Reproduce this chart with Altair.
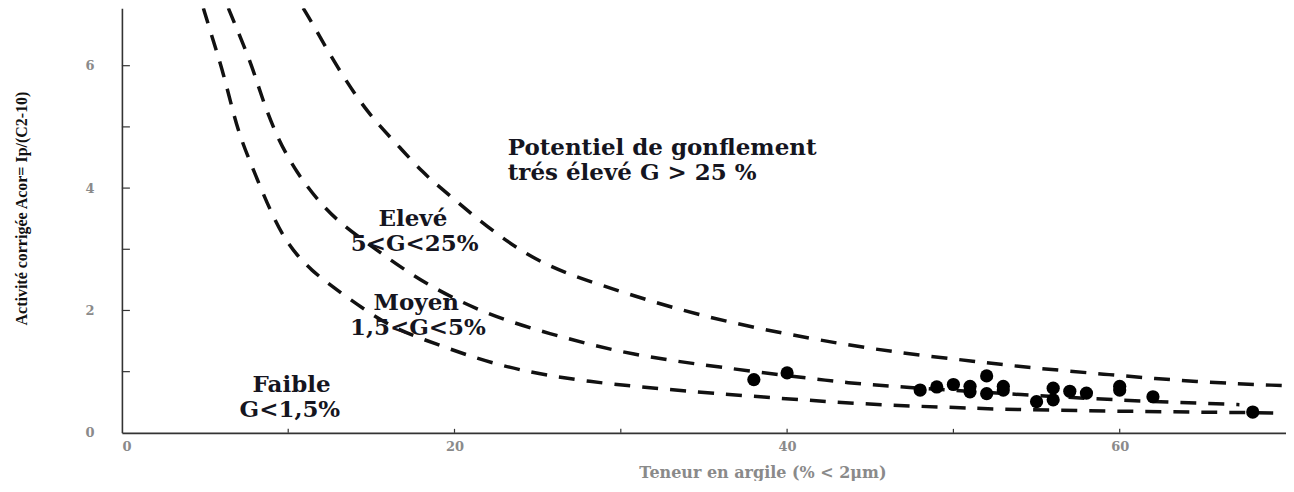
import altair as alt
import pandas as pd

# ---- data ----
clay = [38, 40, 48, 49, 50, 51, 51, 52, 52, 53, 53, 55, 56, 56, 57, 58, 60, 60, 62, 68]
acor = [0.87, 0.98, 0.70, 0.75, 0.79, 0.76, 0.67, 0.93, 0.64, 0.70, 0.76, 0.51, 0.54, 0.73, 0.68, 0.65, 0.76, 0.70, 0.59, 0.34]

# boundary G = 1.5 %
low_x = [4.9, 5.33, 6.05, 6.65, 7.1, 7.9, 8.9, 9.9, 11.3, 13.5, 16.1, 18.7, 22.7, 27.7, 35.3, 44.7, 50.7, 53.1, 63.6, 68.4, 69.6]
low_y = [6.94, 6.55, 5.93, 5.28, 4.84, 4.30, 3.64, 3.10, 2.66, 2.22, 1.73, 1.47, 1.08, 0.83, 0.65, 0.46, 0.41, 0.38, 0.34, 0.33, 0.32]
# boundary G = 5 %
mid_x = [6.4, 6.95, 7.85, 8.4, 9.3, 10.5, 11.9, 13.1, 15.3, 18.1, 21.9, 26.3, 30.7, 35.7, 43.1, 45.6, 58.8, 66.4, 67.2]
mid_y = [6.94, 6.58, 5.98, 5.49, 4.84, 4.25, 3.76, 3.43, 2.99, 2.45, 1.93, 1.57, 1.27, 1.08, 0.83, 0.77, 0.54, 0.47, 0.46]
# boundary G = 25 %
high_x = [10.9, 11.5, 12.7, 14.1, 15.3, 16.7, 18.1, 19.3, 24.3, 28.7, 34.7, 41.7, 46.6, 51.6, 54.0, 59.4, 64.6, 70.0]
high_y = [6.94, 6.67, 6.09, 5.49, 5.07, 4.67, 4.25, 3.97, 2.83, 2.42, 1.90, 1.52, 1.31, 1.16, 1.08, 0.95, 0.83, 0.77]

label_left_text = ["Potentiel de gonflement", "trés élevé G > 25 %"]
label_left_x = [23.2, 23.2]
label_left_y = [4.66, 4.25]

label_center_text = ["Elevé", "5<G<25%", "Moyen", "1,5<G<5%", "Faible", "G<1,5%"]
label_center_x = [17.5, 17.6, 17.7, 17.8, 10.2, 10.1]
label_center_y = [3.50, 3.09, 2.12, 1.71, 0.79, 0.38]

x_tick_vals = [10, 20, 30, 40, 50, 60]
y_tick_vals = [1, 2, 3, 4, 5, 6]

# ---- tables ----
pts = pd.DataFrame({"clay": clay, "acor": acor})
curves = pd.concat([
    pd.DataFrame({"clay": low_x, "acor": low_y, "curve": "G=1,5%"}),
    pd.DataFrame({"clay": mid_x, "acor": mid_y, "curve": "G=5%"}),
    pd.DataFrame({"clay": high_x, "acor": high_y, "curve": "G=25%"}),
])
lab_l = pd.DataFrame({"clay": label_left_x, "acor": label_left_y, "t": label_left_text})
lab_c = pd.DataFrame({"clay": label_center_x, "acor": label_center_y, "t": label_center_text})
xt = pd.DataFrame({"clay": x_tick_vals})
yt = pd.DataFrame({"acor": y_tick_vals})

W, H = 1165, 425
xs = alt.Scale(domain=[0, 70], nice=False, zero=False)
ys = alt.Scale(domain=[0, 6.94], nice=False, zero=False)

x_axis = alt.Axis(
    values=[0, 20, 40, 60], format="d", ticks=False, grid=False, labelPadding=8,
    labelFont="DejaVu Serif", labelFontWeight="bold", labelFontSize=13, labelColor="#8a8a8a",
    title="Teneur en argile (% < 2µm)", titleFont="DejaVu Serif", titleFontWeight="bold",
    titleFontSize=16, titleColor="#8a8a8a", titlePadding=11, titleX=641,
    domainColor="#333333", domainWidth=1.6,
)
y_axis = alt.Axis(
    values=[0, 2, 4, 6], format="d", ticks=False, grid=False, labelPadding=28,
    labelFont="DejaVu Serif", labelFontWeight="bold", labelFontSize=13, labelColor="#8a8a8a",
    title="Activité corrigée Acor= Ip/(C2-10)", titleFont="Liberation Serif", titleFontWeight="bold",
    titleFontSize=16, titleColor="#111111", titlePadding=55, titleY=200,
    domainColor="#333333", domainWidth=1.6,
)

base_x = alt.X("clay:Q", scale=xs, axis=x_axis)
base_y = alt.Y("acor:Q", scale=ys, axis=y_axis)

lines = alt.Chart(curves).mark_line(
    color="#111111", strokeWidth=3.5, strokeDash=[16, 12], interpolate="basis", clip=True
).encode(x=base_x, y=base_y, detail="curve:N")

dots = alt.Chart(pts).mark_circle(color="#000000", size=175, opacity=1).encode(
    x=alt.X("clay:Q", scale=xs), y=alt.Y("acor:Q", scale=ys)
)

txt_l = alt.Chart(lab_l).mark_text(
    align="left", baseline="middle", font="DejaVu Serif", fontWeight="bold", fontSize=23, color="#151520"
).encode(x=alt.X("clay:Q", scale=xs), y=alt.Y("acor:Q", scale=ys), text="t:N")

txt_c = alt.Chart(lab_c).mark_text(
    align="center", baseline="middle", font="DejaVu Serif", fontWeight="bold", fontSize=23, color="#151520"
).encode(x=alt.X("clay:Q", scale=xs), y=alt.Y("acor:Q", scale=ys), text="t:N")

xticks = alt.Chart(xt).mark_rule(color="#333333", strokeWidth=1.2).encode(
    x=alt.X("clay:Q", scale=xs), y=alt.value(H), y2=alt.value(H - 4)
)
yticks = alt.Chart(yt).mark_rule(color="#333333", strokeWidth=1.2).encode(
    y=alt.Y("acor:Q", scale=ys), x=alt.value(0), x2=alt.value(8)
)

chart = alt.layer(lines, xticks, yticks, dots, txt_l, txt_c).properties(
    width=W, height=H, background="white",
    padding={"left": 5, "top": 0, "right": 0, "bottom": 0},
).configure_view(stroke=None)

chart.save("out.html", embed_options={"renderer": "svg", "actions": False})
